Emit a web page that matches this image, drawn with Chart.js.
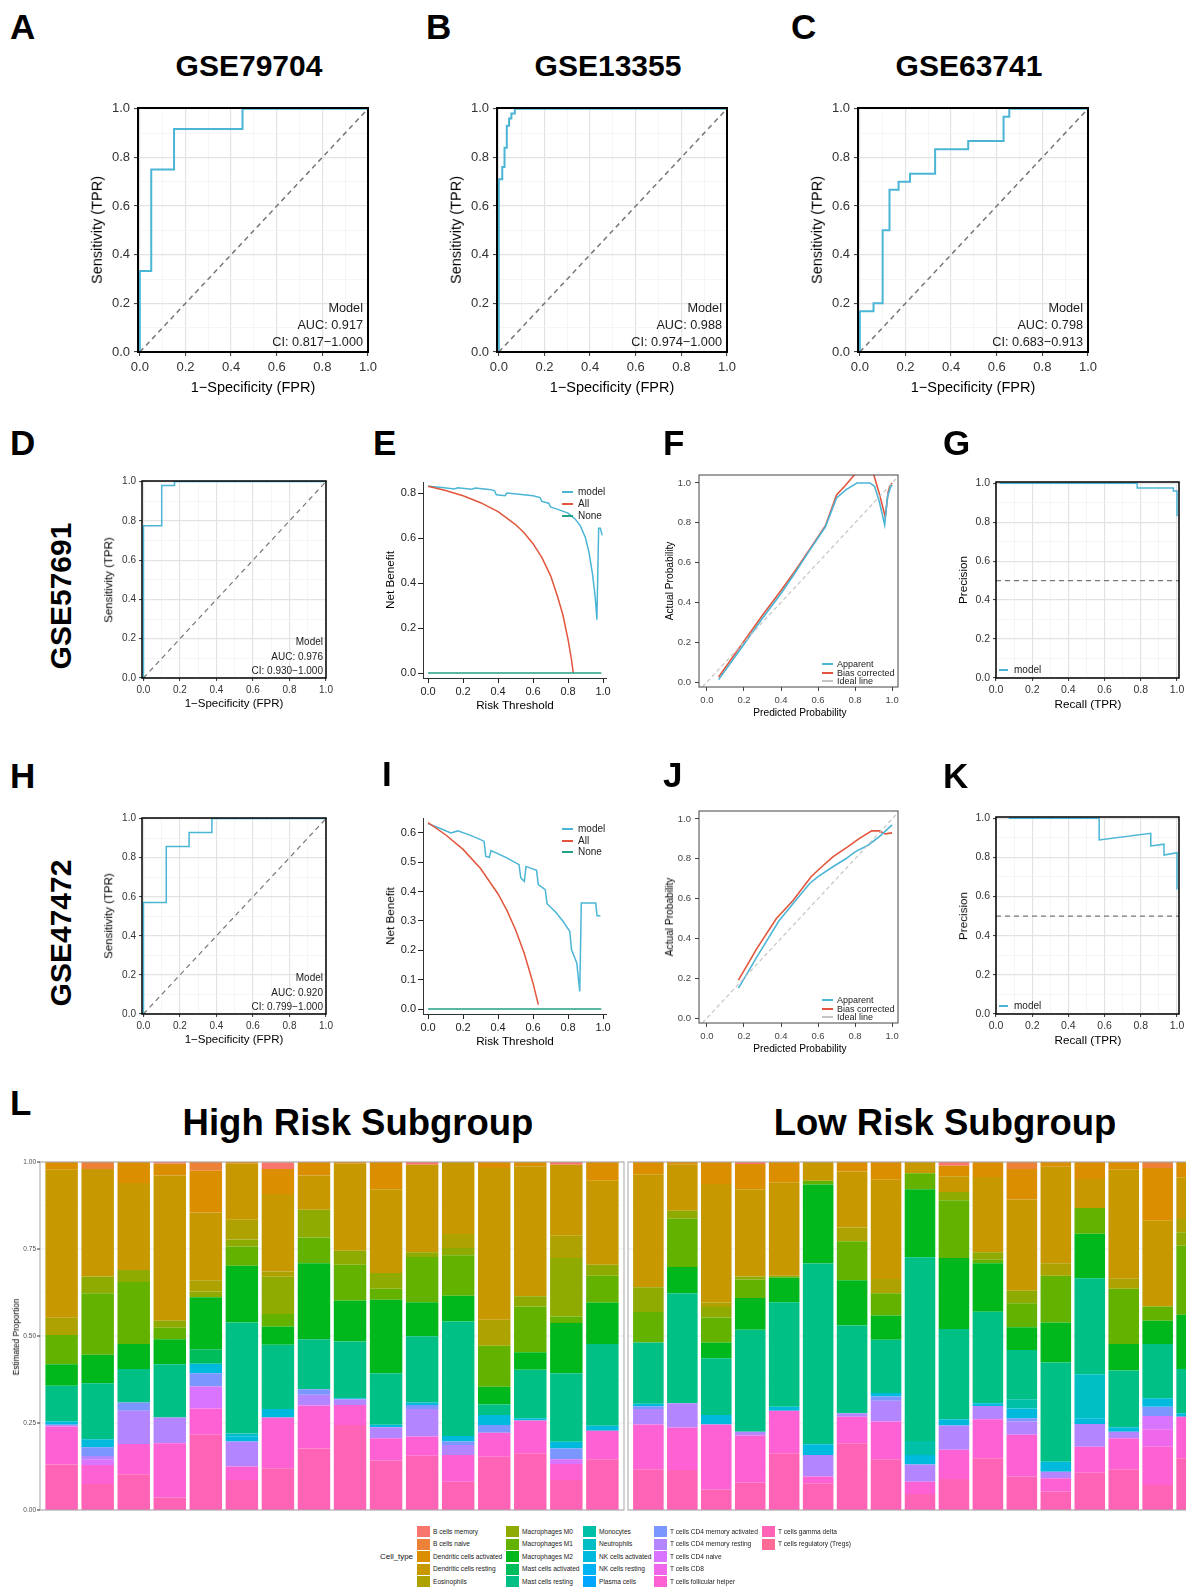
<!DOCTYPE html>
<html lang="en">
<head>
<meta charset="UTF-8">
<title>Model validation and immune cell proportions</title>
<script src="https://cdn.jsdelivr.net/npm/chart.js"></script>
<style>
  html, body { margin: 0; padding: 0; background: #fff; overflow: hidden; }
  #page { position: relative; width: 1186px; height: 1589px; overflow: hidden;
          font-family: 'Liberation Sans', Arial, Helvetica, sans-serif; color: #000; }
  #page canvas, #page .t { position: absolute; }
  #page .t { white-space: nowrap; line-height: 1; }
</style>
</head>
<body>
<div id="page"></div>
<script>
// ---------------- ROC curves (FPR / TPR) ----------------
const rocFprA = [0, 0, 0.05, 0.05, 0.15, 0.15, 0.45, 0.45, 1];
const rocTprA = [0, 0.333, 0.333, 0.75, 0.75, 0.917, 0.917, 1, 1];
const rocFprB = [0, 0, 0.015, 0.015, 0.025, 0.025, 0.035, 0.035, 0.045, 0.045, 0.055, 0.055, 0.07, 0.07, 1];
const rocTprB = [0, 0.71, 0.71, 0.76, 0.76, 0.84, 0.84, 0.93, 0.93, 0.96, 0.96, 0.98, 0.98, 1, 1];
const rocFprC = [0, 0, 0.06, 0.06, 0.1, 0.1, 0.13, 0.13, 0.17, 0.17, 0.22, 0.22, 0.33, 0.33, 0.475, 0.475, 0.63, 0.63, 0.655, 0.655, 1];
const rocTprC = [0, 0.167, 0.167, 0.2, 0.2, 0.5, 0.5, 0.667, 0.667, 0.7, 0.7, 0.733, 0.733, 0.833, 0.833, 0.867, 0.867, 0.967, 0.967, 1, 1];
const rocFprD = [0, 0, 0.1, 0.1, 0.17, 0.17, 1];
const rocTprD = [0, 0.775, 0.775, 0.98, 0.98, 1, 1];
const rocFprH = [0, 0, 0.125, 0.125, 0.25, 0.25, 0.375, 0.375, 1];
const rocTprH = [0, 0.571, 0.571, 0.857, 0.857, 0.929, 0.929, 1, 1];

// ---------------- decision curves ----------------
const dcaThrModelE = [0, 0.08, 0.15, 0.17, 0.25, 0.27, 0.36, 0.38, 0.39, 0.44, 0.45, 0.52, 0.6, 0.64, 0.65, 0.69, 0.7, 0.75, 0.8, 0.84, 0.87, 0.9, 0.92, 0.94, 0.955, 0.965, 0.975, 0.985, 0.995];
const dcaModelE    = [0.83, 0.825, 0.818, 0.823, 0.817, 0.822, 0.815, 0.81, 0.792, 0.788, 0.8, 0.795, 0.788, 0.78, 0.763, 0.755, 0.738, 0.725, 0.711, 0.685, 0.655, 0.6, 0.535, 0.44, 0.34, 0.237, 0.644, 0.644, 0.612];
const dcaThrAllE   = [0, 0.1, 0.2, 0.3, 0.4, 0.5, 0.55, 0.6, 0.65, 0.7, 0.74, 0.77, 0.8, 0.82, 0.83];
const dcaAllE      = [0.83, 0.811, 0.788, 0.757, 0.717, 0.66, 0.622, 0.575, 0.514, 0.433, 0.34, 0.26, 0.15, 0.058, 0];
const dcaThrModelI = [0, 0.07, 0.13, 0.17, 0.25, 0.32, 0.33, 0.35, 0.36, 0.45, 0.52, 0.53, 0.55, 0.56, 0.62, 0.63, 0.67, 0.68, 0.73, 0.77, 0.81, 0.82, 0.85, 0.867, 0.876, 0.958, 0.966, 0.985];
const dcaModelI    = [0.632, 0.615, 0.6, 0.607, 0.59, 0.572, 0.52, 0.517, 0.54, 0.515, 0.492, 0.447, 0.435, 0.486, 0.473, 0.424, 0.407, 0.359, 0.33, 0.3, 0.265, 0.202, 0.157, 0.06, 0.361, 0.361, 0.318, 0.318];
const dcaThrAllI   = [0, 0.1, 0.2, 0.3, 0.4, 0.45, 0.5, 0.55, 0.6, 0.63];
const dcaAllI      = [0.635, 0.594, 0.544, 0.479, 0.392, 0.337, 0.27, 0.189, 0.088, 0.015];
const dcaThrNone   = [0, 0.99];
const dcaNone      = [0, 0];

// ---------------- calibration curves ----------------
const calPredAppF = [0.063, 0.2, 0.3, 0.4, 0.47, 0.55, 0.64, 0.7, 0.75, 0.81, 0.88, 0.905, 0.93, 0.96, 0.975, 0.99, 1.0];
const calAppF     = [0.012, 0.19, 0.32, 0.445, 0.54, 0.655, 0.78, 0.925, 0.965, 1.0, 1.0, 0.983, 0.91, 0.79, 0.93, 0.975, 0.99];
const calPredBiasF = [0.063, 0.2, 0.3, 0.4, 0.47, 0.55, 0.64, 0.7, 0.75, 0.8, 0.85, 0.9, 0.93, 0.963, 0.98, 0.99, 1.0];
const calBiasF     = [0.025, 0.205, 0.335, 0.46, 0.55, 0.66, 0.785, 0.94, 0.99, 1.045, 1.08, 1.045, 0.95, 0.83, 0.96, 0.985, 1.0];
const calPredAppJ = [0.17, 0.27, 0.39, 0.47, 0.555, 0.6, 0.68, 0.75, 0.8, 0.87, 0.93, 1.0];
const calAppJ     = [0.15, 0.307, 0.49, 0.58, 0.676, 0.71, 0.76, 0.8, 0.835, 0.868, 0.91, 0.97];
const calPredBiasJ = [0.17, 0.27, 0.375, 0.465, 0.5625, 0.62, 0.68, 0.76, 0.82, 0.89, 0.93, 0.964, 1.0];
const calBiasJ     = [0.19, 0.35, 0.5, 0.59, 0.71, 0.76, 0.81, 0.86, 0.9, 0.94, 0.94, 0.925, 0.93];
const calIdeal     = [-0.05, 1.05];

// ---------------- precision-recall curves ----------------
const prRecallG = [0.02, 0.78, 0.78, 0.98, 0.98, 1.0, 1.0];
const prPrecG   = [1, 1, 0.975, 0.975, 0.96, 0.96, 0.83];
const prRecallK = [0.07, 0.57, 0.57, 0.855, 0.855, 0.928, 0.928, 1, 1];
const prPrecK   = [1, 1, 0.889, 0.923, 0.858, 0.867, 0.812, 0.824, 0.636];

// ---------------- CIBERSORT proportions (16 high-risk then 17 low-risk samples) ----------------
const highRiskSamples = ['HR01','HR02','HR03','HR04','HR05','HR06','HR07','HR08','HR09','HR10','HR11','HR12','HR13','HR14','HR15','HR16'];
const lowRiskSamples  = ['LR01','LR02','LR03','LR04','LR05','LR06','LR07','LR08','LR09','LR10','LR11','LR12','LR13','LR14','LR15','LR16','LR17'];
const cellTypes = ['B cells memory','B cells naive','Dendritic cells activated','Dendritic cells resting','Eosinophils',
  'Macrophages M0','Macrophages M1','Macrophages M2','Mast cells activated','Mast cells resting',
  'Monocytes','Neutrophils','NK cells activated','NK cells resting','Plasma cells',
  'T cells CD4 memory activated','T cells CD4 memory resting','T cells CD4 naive','T cells CD8','T cells follicular helper',
  'T cells gamma delta','T cells regulatory (Tregs)'];
const bCellsMemory   = [0,0,0,.005,0,0,.019,0,0,0,.008,0,0,0,.008,0,  0,0,0,.006,0,0,0,0,0,.011,0,0,0,0,0,0,0];
const bCellsNaive    = [0,.020,0,0,.025,0,0,0,0,0,0,0,0,0,0,0,  0,0,0,0,0,0,0,0,0,0,0,.020,0,0,0,.017,0];
const dcActivated    = [.022,0,.060,.034,.120,.005,.072,.039,.005,.078,0,0,.017,.012,0,.054,  .035,.008,.063,.072,.058,0,.027,.051,0,.030,.043,.088,.014,.049,.022,.152,.044];
const dcResting      = [.424,.309,.250,.417,.195,.161,.223,.098,.250,.241,.251,.207,.436,.374,.204,.241,  .325,.132,.341,.251,.269,.054,.161,.285,.032,.045,.216,.262,.277,.083,.312,.246,.120];
const eosinophils    = [.051,0,0,0,.032,.057,.015,0,0,0,0,.040,.075,0,.064,0,  0,0,.013,0,0,0,.040,.041,0,0,0,0,.036,0,.030,0,.038];
const macrophagesM0  = [0,.048,.035,.020,.017,.020,.107,.080,.040,.045,.014,.021,0,.029,.168,.032,  .071,.023,.030,.009,.005,0,0,0,0,.024,.022,.036,0,0,0,0,.039];
const macrophagesM1  = [.084,.177,.178,.033,0,.055,.036,.074,.103,.032,.130,.116,.118,.132,.019,.077,  .088,.139,.072,.053,0,.011,.112,.064,.046,.166,.010,.069,.134,.074,.159,.041,.198];
const macrophagesM2  = [.062,.082,.072,.072,.149,.163,.052,.218,.118,.211,.098,.074,.051,.050,.144,.119,  0,.075,.045,.091,.071,.227,.130,.070,.196,.204,.139,.065,.115,.128,.076,.067,.156];
const mastActivated  = [0,0,0,0,.042,0,0,0,0,0,0,0,0,0,0,0,  0,0,0,0,0,0,0,0,0,0,0,0,0,0,0,0,0];
const mastResting    = [.103,.161,.096,.153,0,.319,.185,.144,.163,.148,.190,.329,.030,.139,.197,.235,  .176,.316,.163,.293,.300,.519,.252,.153,.528,.259,.263,.142,.285,.276,.163,.156,.127];
const monocytes      = [0,0,0,0,0,0,0,0,0,0,0,0,0,0,0,0,  0,0,0,0,0,0,0,0,.040,0,0,.026,0,0,0,0,0];
const neutrophils    = [0,0,0,0,0,.008,0,0,0,0,0,0,0,0,0,0,  0,0,0,0,0,0,0,0,0,0,0,0,0,.126,0,0,0];
const nkActivated    = [.009,.023,0,0,.027,.015,.024,0,.003,.007,.007,.016,.029,.007,.019,.014,  .007,0,.027,0,.012,.031,0,.010,.027,.018,.008,.028,.029,.017,.013,.024,.010];
const nkResting      = [0,0,0,0,0,0,0,0,0,0,0,0,0,0,0,0,  0,0,0,0,0,0,0,0,0,0,0,0,0,0,0,0,0];
const plasmaCells    = [0,0,0,0,0,0,0,0,0,0,0,0,0,0,0,0,  0,0,0,0,0,0,0,0,0,0,0,0,0,0,0,0,0];
const cd4MemActive   = [0,.025,.024,0,.038,0,0,.016,0,0,.012,.010,.022,0,.031,0,  .008,0,0,0,0,0,0,.012,0,0,0,.010,0,0,0,.027,0];
const cd4MemResting  = [.005,.009,.095,.074,0,.072,0,.031,.016,.032,.079,.029,0,0,0,0,  .044,.070,0,.011,0,.062,.010,.060,.050,.070,.038,.038,.019,.065,.019,0,0];
const cd4Naive       = [0,.017,0,0,.063,0,0,0,0,0,0,0,0,0,.014,0,  0,0,0,0,0,0,0,0,0,0,0,0,0,0,0,.038,0];
const cd8            = [0,0,0,0,0,0,0,0,0,0,0,0,0,0,0,0,  0,0,0,0,0,0,0,0,0,0,0,0,0,0,0,.050,0];
const tfh            = [.109,.054,.087,.156,.076,.039,.146,.123,.058,.064,.055,.077,.069,.094,.046,.082,  .129,.122,.187,.135,.122,.019,.076,.108,.035,.084,.112,.120,.038,.075,.089,.110,.119];
const tGammaDelta    = [.131,.075,.103,.036,.216,.086,.120,.177,.244,.142,.156,.081,.153,.163,.086,.146,  .117,.115,.059,.079,.163,.077,.192,.146,.046,.089,.149,.096,.053,.107,.117,.072,.149];
const tregs          = [0,0,0,0,0,0,0,0,0,0,0,0,0,0,0,0,  0,0,0,0,0,0,0,0,0,0,0,0,0,0,0,0,0];
const cellValues = [bCellsMemory, bCellsNaive, dcActivated, dcResting, eosinophils, macrophagesM0, macrophagesM1,
  macrophagesM2, mastActivated, mastResting, monocytes, neutrophils, nkActivated, nkResting, plasmaCells,
  cd4MemActive, cd4MemResting, cd4Naive, cd8, tfh, tGammaDelta, tregs];
const propTicks = [0, 0.25, 0.5, 0.75, 1];

// ---------------- setup ----------------
const FONT = "'Liberation Sans', Arial, Helvetica, sans-serif";
Chart.defaults.font.family = FONT;
Chart.defaults.animation = false;
Chart.defaults.responsive = false;
Chart.defaults.devicePixelRatio = 1;
Chart.defaults.events = [];
Chart.defaults.plugins.legend.display = false;
Chart.defaults.plugins.tooltip.enabled = false;

const CYAN = '#4BB5D6', RED = '#E2553C', TEAL = '#22A186';
const page = document.getElementById('page');

function text(str, x, y, o = {}) {
  const d = document.createElement('div');
  d.className = 't';
  d.textContent = str;
  d.style.left = x + 'px';
  d.style.top = y + 'px';
  d.style.fontSize = (o.size || 12) + 'px';
  if (o.bold) d.style.fontWeight = 'bold';
  d.style.color = o.color || '#000';
  const ax = o.align === 'right' ? '-100%' : o.align === 'left' ? '0' : '-50%';
  d.style.transform = `translate(${ax},-50%)` + (o.rotate ? ` rotate(${o.rotate}deg)` : '');
  page.appendChild(d);
}

function keyLine(x1, x2, y, color, label, tx, size) {
  const d = document.createElement('div');
  d.style.cssText = `position:absolute;left:${x1}px;top:${y - 1}px;width:${x2 - x1}px;height:2px;background:${color}`;
  page.appendChild(d);
  text(label, tx, y, { size, align: 'left', color: '#222' });
}

function addCanvas(left, top, w, h) {
  const c = document.createElement('canvas');
  c.width = w; c.height = h;
  c.style.left = left + 'px'; c.style.top = top + 'px';
  c.style.width = w + 'px'; c.style.height = h + 'px';
  page.appendChild(c);
  return c;
}

const P = 16;
function panelCanvas(box, s) {
  return addCanvas(box.l - s.yw - P, box.t - P, box.r - box.l + s.yw + 2 * P, box.b - box.t + s.xh + 2 * P);
}

const xy = (xs, ys) => xs.map((x, i) => ({ x, y: ys[i] }));
function line(xs, ys, color, width, dash) {
  return { data: xy(xs, ys), showLine: true, pointRadius: 0, borderColor: color,
           borderWidth: width, borderDash: dash || [], tension: 0, fill: false };
}

// box around the plotting area
const framePlugin = {
  id: 'frame',
  afterDatasetsDraw(chart, args, o) {
    if (!o || !o.color) return;
    const a = chart.chartArea, c = chart.ctx;
    c.save();
    c.strokeStyle = o.color; c.lineWidth = o.width;
    c.strokeRect(a.left, a.top, a.right - a.left, a.bottom - a.top);
    c.restore();
  }
};

// ggplot-like panel for the stacked bars (panel wider than bars by 0.1 of a slot)
const barPanel = {
  id: 'barPanel',
  beforeDatasetsDraw(chart, args, o) {
    if (!o || !o.on) return;
    const a = chart.chartArea, c = chart.ctx, y = chart.scales.y;
    const ext = (a.right - a.left) / chart.data.labels.length * 0.1;
    c.save();
    propTicks.forEach((v, i) => {
      const lines = [[v, '#EBEBEB', 1.1]];
      if (i > 0) lines.push([(v + propTicks[i - 1]) / 2, '#F5F5F5', 0.6]);
      lines.forEach(([val, col, w]) => {
        const py = y.getPixelForValue(val);
        c.strokeStyle = col; c.lineWidth = w;
        c.beginPath(); c.moveTo(a.left - ext, py); c.lineTo(a.right + ext, py); c.stroke();
      });
    });
    c.restore();
  },
  afterDatasetsDraw(chart, args, o) {
    if (!o || !o.on) return;
    const a = chart.chartArea, c = chart.ctx, y = chart.scales.y;
    const ext = (a.right - a.left) / chart.data.labels.length * 0.1;
    const L = a.left - ext, R = a.right + ext;
    c.save();
    c.strokeStyle = '#A6A6A6'; c.lineWidth = 1;
    c.strokeRect(L, a.top, R - L, a.bottom - a.top);
    if (o.yTicks) {
      c.strokeStyle = '#333'; c.fillStyle = '#4D4D4D';
      c.font = '6.5px ' + FONT; c.textAlign = 'right'; c.textBaseline = 'middle';
      propTicks.forEach(v => {
        const py = y.getPixelForValue(v);
        c.beginPath(); c.moveTo(L - 3, py); c.lineTo(L, py); c.stroke();
        c.fillText(v.toFixed(2), L - 4, py);
      });
    }
    c.restore();
  }
};
Chart.register(framePlugin, barPanel);

const isMajor = v => v != null && Math.abs(Math.round(v * 10)) % 2 === 0;
function ggScale(min, max, s, axis) {
  return {
    type: 'linear', min, max,
    afterFit: sc => { if (axis === 'x') sc.height = s.xh; else sc.width = s.yw; },
    border: { display: false },
    grid: {
      color: g => isMajor(g.tick && g.tick.value) ? '#E3E3E3' : '#F0F0F0',
      lineWidth: g => isMajor(g.tick && g.tick.value) ? 1.2 : 0.7,
      tickColor: g => isMajor(g.tick && g.tick.value) ? '#333' : 'rgba(0,0,0,0)',
      tickLength: s.tl, tickWidth: 1
    },
    ticks: { stepSize: 0.1, maxTicksLimit: 20, includeBounds: false, autoSkip: false, maxRotation: 0,
             padding: s.pad, color: '#333', font: { size: s.tick },
             callback: v => isMajor(v) ? v.toFixed(1) : '' }
  };
}
function baseScale(min, max, step, s, axis, color, axisLine) {
  return {
    type: 'linear', min, max,
    afterFit: sc => { if (axis === 'x') sc.height = s.xh; else sc.width = s.yw; },
    border: { display: !!axisLine, color: '#333', width: 1 },
    grid: { drawOnChartArea: false, drawTicks: true, tickLength: s.tl, color: color, lineWidth: 1 },
    ticks: { stepSize: step, includeBounds: false, autoSkip: false, maxRotation: 0,
             padding: s.pad, color: color, font: { size: s.tick }, callback: v => v.toFixed(1) }
  };
}
const layout = { padding: P, autoPadding: false };

// ---------------- ROC panels ----------------
function rocPanel(box, fpr, tpr, s) {
  new Chart(panelCanvas(box, s), {
    type: 'scatter',
    data: { datasets: [
      line([0, 1], [0, 1], '#777', s.diag, [5, 4]),
      line(fpr, tpr, CYAN, s.line)
    ] },
    options: {
      layout,
      scales: { x: ggScale(-0.008, 1, s, 'x'), y: ggScale(0, 1.003, s, 'y') },
      plugins: { frame: { color: '#000', width: s.frame } }
    }
  });
}

const rocBig = { tick: 13, tl: 4, pad: 4, yw: 42, xh: 30, frame: 2, line: 2, diag: 1.5 };
const rocSmall = { tick: 10, tl: 3, pad: 3, yw: 32, xh: 24, frame: 1.5, line: 1.5, diag: 1.2 };

const rocTop = [
  { box: { l: 138, t: 108, r: 368, b: 352 }, fpr: rocFprA, tpr: rocTprA, letter: 'A', lx: 10, title: 'GSE79704', auc: '0.917', ci: '0.817−1.000' },
  { box: { l: 497, t: 108, r: 727, b: 352 }, fpr: rocFprB, tpr: rocTprB, letter: 'B', lx: 426, title: 'GSE13355', auc: '0.988', ci: '0.974−1.000' },
  { box: { l: 858, t: 108, r: 1088, b: 352 }, fpr: rocFprC, tpr: rocTprC, letter: 'C', lx: 791, title: 'GSE63741', auc: '0.798', ci: '0.683−0.913' }
];
rocTop.forEach(p => {
  rocPanel(p.box, p.fpr, p.tpr, rocBig);
  const b = p.box, cx = (b.l + b.r) / 2;
  text(p.letter, p.lx, 26, { size: 35, bold: true, align: 'left' });
  text(p.title, cx - 4, 66, { size: 30, bold: true });
  text('Sensitivity (TPR)', b.l - 41, (b.t + b.b) / 2, { size: 14.5, rotate: -90 });
  text('1−Specificity (FPR)', cx, 387, { size: 14.5 });
  text('Model', b.r - 5, 308, { size: 12.7, align: 'right', color: '#1a1a1a' });
  text('AUC: ' + p.auc, b.r - 5, 325, { size: 12.7, align: 'right', color: '#1a1a1a' });
  text('CI: ' + p.ci, b.r - 5, 342, { size: 12.7, align: 'right', color: '#1a1a1a' });
});

const rocRows = [
  { box: { l: 142, t: 481, r: 326, b: 678 }, fpr: rocFprD, tpr: rocTprD, letter: 'D', ly: 442, gse: 'GSE57691', gy: 596, auc: '0.976', ci: '0.930−1.000' },
  { box: { l: 142, t: 818, r: 326, b: 1014 }, fpr: rocFprH, tpr: rocTprH, letter: 'H', ly: 775, gse: 'GSE47472', gy: 933, auc: '0.920', ci: '0.799−1.000' }
];
rocRows.forEach(p => {
  rocPanel(p.box, p.fpr, p.tpr, rocSmall);
  const b = p.box;
  text(p.letter, 10, p.ly, { size: 35, bold: true, align: 'left' });
  text(p.gse, 61, p.gy, { size: 30, bold: true, rotate: -90 });
  text('Sensitivity (TPR)', 109, (b.t + b.b) / 2, { size: 11.5, rotate: -90 });
  text('1−Specificity (FPR)', (b.l + b.r) / 2, b.b + 26, { size: 11.5 });
  text('Model', b.r - 3, b.b - 36, { size: 10, align: 'right', color: '#1a1a1a' });
  text('AUC: ' + p.auc, b.r - 3, b.b - 21, { size: 10, align: 'right', color: '#1a1a1a' });
  text('CI: ' + p.ci, b.r - 3, b.b - 7, { size: 10, align: 'right', color: '#1a1a1a' });
});

// ---------------- decision curve panels ----------------
const dcaSize = { tick: 11, tl: 5, pad: 2, yw: 34, xh: 26 };
const dcaPanels = [
  { box: { l: 423, t: 482, r: 606, b: 678 }, ymin: -0.022, ymax: 0.849, step: 0.2, letter: 'E', ly: 442, lx: 373,
    model: [dcaThrModelE, dcaModelE], all: [dcaThrAllE, dcaAllE], keyY: [492, 503.5, 515.5] },
  { box: { l: 423, t: 818, r: 606, b: 1014 }, ymin: -0.017, ymax: 0.651, step: 0.1, letter: 'I', ly: 773, lx: 382,
    model: [dcaThrModelI, dcaModelI], all: [dcaThrAllI, dcaAllI], keyY: [829, 840.5, 852] }
];
dcaPanels.forEach(p => {
  new Chart(panelCanvas(p.box, dcaSize), {
    type: 'scatter',
    data: { datasets: [
      line(dcaThrNone, dcaNone, TEAL, 1.6),
      line(p.all[0], p.all[1], RED, 1.5),
      line(p.model[0], p.model[1], CYAN, 1.5)
    ] },
    options: {
      layout,
      scales: { x: baseScale(-0.029, 1.017, 0.2, dcaSize, 'x', '#222', true),
                y: baseScale(p.ymin, p.ymax, p.step, dcaSize, 'y', '#222', true) }
    }
  });
  const b = p.box;
  text(p.letter, p.lx, p.ly, { size: 35, bold: true, align: 'left' });
  text('Net Benefit', 390, (b.t + b.b) / 2, { size: 11.7, rotate: -90 });
  text('Risk Threshold', 515, b.b + 27, { size: 11.7 });
  keyLine(562, 573, p.keyY[0], CYAN, 'model', 578, 10);
  keyLine(562, 573, p.keyY[1], RED, 'All', 578, 10);
  keyLine(562, 573, p.keyY[2], TEAL, 'None', 578, 10);
});

// ---------------- calibration panels ----------------
const calSize = { tick: 9.5, tl: 4, pad: 4, yw: 30, xh: 24 };
const calPanels = [
  { box: { l: 699, t: 475, r: 898, b: 687 }, letter: 'F', ly: 442, app: [calPredAppF, calAppF], bias: [calPredBiasF, calBiasF] },
  { box: { l: 699, t: 811, r: 898, b: 1023 }, letter: 'J', ly: 774, app: [calPredAppJ, calAppJ], bias: [calPredBiasJ, calBiasJ] }
];
calPanels.forEach(p => {
  new Chart(panelCanvas(p.box, calSize), {
    type: 'scatter',
    data: { datasets: [
      line(calIdeal, calIdeal, '#C4C4C4', 1.2, [4, 3]),
      line(p.app[0], p.app[1], CYAN, 1.6),
      line(p.bias[0], p.bias[1], RED, 1.6)
    ] },
    options: {
      layout,
      scales: { x: baseScale(-0.043, 1.032, 0.2, calSize, 'x', '#444'),
                y: baseScale(-0.025, 1.04, 0.2, calSize, 'y', '#444') },
      plugins: { frame: { color: '#444', width: 1 } }
    }
  });
  const b = p.box;
  text(p.letter, 663, p.ly, { size: 35, bold: true, align: 'left' });
  text('Actual Probability', 670, (b.t + b.b) / 2, { size: 10.2, rotate: -90 });
  text('Predicted Probability', 800, b.b + 26, { size: 10.2 });
  keyLine(822, 833, b.b - 23, CYAN, 'Apparent', 837, 9);
  keyLine(822, 833, b.b - 14.5, RED, 'Bias corrected', 837, 9);
  keyLine(822, 833, b.b - 6, '#C4C4C4', 'Ideal line', 837, 9);
});

// ---------------- precision-recall panels ----------------
const prSize = { tick: 10.5, tl: 3, pad: 3, yw: 30, xh: 24 };
const prPanels = [
  { box: { l: 996, t: 482, r: 1179, b: 678 }, letter: 'G', ly: 442, rec: prRecallG, prec: prPrecG },
  { box: { l: 996, t: 817, r: 1179, b: 1014 }, letter: 'K', ly: 775, rec: prRecallK, prec: prPrecK }
];
prPanels.forEach(p => {
  new Chart(panelCanvas(p.box, prSize), {
    type: 'scatter',
    data: { datasets: [
      line([0, 1.02], [0.5, 0.5], '#777', 1.2, [5, 4]),
      line(p.rec, p.prec, CYAN, 1.5)
    ] },
    options: {
      layout,
      scales: { x: ggScale(0, 1.011, prSize, 'x'), y: ggScale(0, 1.006, prSize, 'y') },
      plugins: { frame: { color: '#000', width: 1.5 } }
    }
  });
  const b = p.box;
  text(p.letter, 943, p.ly, { size: 35, bold: true, align: 'left' });
  text('Precision', 963, (b.t + b.b) / 2, { size: 11.7, rotate: -90 });
  text('Recall (TPR)', 1088, b.b + 26, { size: 11.7 });
  keyLine(999, 1008, b.b - 8, CYAN, 'model', 1014, 10);
});

// ---------------- stacked bars (L) ----------------
function hcl(h, c, l) {
  const WX = 95.047, WY = 100, WZ = 108.883;
  const rad = h * Math.PI / 180;
  const U = c * Math.cos(rad), V = c * Math.sin(rad);
  const Y = WY * (l > 7.999592 ? Math.pow((l + 16) / 116, 3) : l / 903.3);
  const den = WX + 15 * WY + 3 * WZ;
  const u = U / (13 * l) + 4 * WX / den, v = V / (13 * l) + 9 * WY / den;
  const X = 9 * Y * u / (4 * v);
  const Z = -X / 3 - 5 * Y + 3 * Y / v;
  const lin = [3.240479 * X - 1.537150 * Y - 0.498535 * Z,
               -0.969256 * X + 1.875992 * Y + 0.041556 * Z,
               0.055648 * X - 0.204043 * Y + 1.057311 * Z].map(q => q / 100);
  const g = q => { q = Math.min(1, Math.max(0, q)); return q <= 0.0031308 ? 12.92 * q : 1.055 * Math.pow(q, 1 / 2.4) - 0.055; };
  return 'rgb(' + lin.map(q => Math.round(255 * g(q))).join(',') + ')';
}
const cellColors = cellTypes.map((_, i) => hcl(15 + i * 360 / cellTypes.length, 100, 65));

function barChart(left, top, w, padL, padR, samples, from, yTicks) {
  const datasets = cellTypes.map((name, i) => ({
    label: name,
    data: cellValues[i].slice(from, from + samples.length),
    backgroundColor: cellColors[i],
    borderWidth: 0, barPercentage: 0.9, categoryPercentage: 1
  })).reverse();
  new Chart(addCanvas(left, top, w, 368), {
    type: 'bar',
    data: { labels: samples, datasets },
    options: {
      layout: { padding: { left: padL, right: padR, top: 10, bottom: 10 }, autoPadding: false },
      scales: {
        x: { stacked: true, display: false },
        y: { stacked: true, display: false, min: 0, max: 1 }
      },
      plugins: { barPanel: { on: true, yTicks } }
    }
  });
}
// high: panel 40..624, slot 36.05 px; low: panel 628..1212 (runs off the page), slot 33.95 px
barChart(0, 1152, 630, 43.6, 630 - 620.4, highRiskSamples, 0, true);
barChart(626, 1152, 594, 5.4, 594 - 582.6, lowRiskSamples, highRiskSamples.length, false);

text('L', 10, 1102, { size: 35, bold: true, align: 'left' });
text('High Risk Subgroup', 358, 1123, { size: 36.5, bold: true });
text('Low Risk Subgroup', 945, 1123, { size: 36.5, bold: true });
text('Estimated Proportion', 17, 1337, { size: 8.2, rotate: -90 });

// legend
text('Cell_type', 413, 1557, { size: 7.9, align: 'right', color: '#111' });
const keyCols = [417, 506, 583, 654, 762];
cellTypes.forEach((name, i) => {
  const col = Math.floor(i / 5), row = i % 5;
  const x = keyCols[col], y = 1531.5 + row * 12.6;
  const sw = document.createElement('div');
  sw.style.cssText = `position:absolute;left:${x}px;top:${y - 5.6}px;width:12.6px;height:11.2px;background:${cellColors[i]}`;
  page.appendChild(sw);
  text(name, x + 16, y, { size: 6.6, align: 'left', color: '#222' });
});
</script>
</body>
</html>
